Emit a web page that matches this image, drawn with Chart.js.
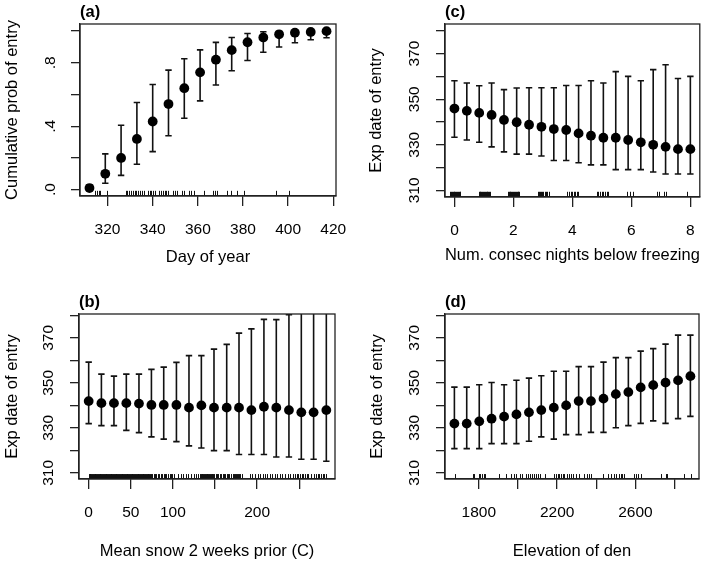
<!DOCTYPE html>
<html>
<head>
<meta charset="utf-8">
<script src="https://cdn.jsdelivr.net/npm/chart.js@4.4.0/dist/chart.umd.min.js"></script>
<style>
html, body { margin: 0; padding: 0; background: #fff; }
#wrap { position: relative; width: 709px; height: 562px; }
#wrap canvas { position: absolute; left: 0; top: 0; }
</style>
</head>
<body>
<div id="wrap">
  <canvas id="pa" width="709" height="562"></canvas>
  <canvas id="pb" width="709" height="562"></canvas>
  <canvas id="pc" width="709" height="562"></canvas>
  <canvas id="pd" width="709" height="562"></canvas>
</div>
<script>
// (a) day of year
const dayX = [312,319,326,333,340,347,354,361,368,375,382,389,396,403,410,417];
const dayProb = [0.01,0.10,0.20,0.32,0.43,0.54,0.64,0.74,0.82,0.88,0.93,0.96,0.98,0.99,0.995,1.0];
const dayLo = [0.003,0.04,0.09,0.16,0.24,0.34,0.45,0.56,0.66,0.75,0.815,0.867,0.90,0.927,0.946,0.958];
const dayHi = [0.03,0.226,0.406,0.55,0.663,0.754,0.826,0.882,0.929,0.96,0.985,0.996,0.997,0.998,0.999,1.0];
const dayRug = [314.6,315.3,316,316.6,319.8,328,328.8,329.6,330.4,331.2,332,332.8,333.6,334.4,335.2,336,
  337.8,338.6,339.4,340.3,341.1,342.8,343.6,344.4,345.3,346.1,347,348.8,349.8,350.8,352.9,353.9,355.9,
  357.1,358.4,362.8,366.6,367.7,368.7,372.8,374.6,377.5,380.5,394.6,400.4];
const dayTicks = [320,340,360,380,400,420];
const dayTickLabels = ['320','340','360','380','400','420'];
const probTicks = [0,0.2,0.4,0.6,0.8,1.0];
const probTickLabels = ['.0','','.4','','.8',''];

// (b) mean snow
const snowX = [0,15.1,30,44.7,59.7,74.5,89.1,104.2,119.1,133.8,148.8,163.9,178.5,193.2,208.1,222.8,237.8,252.5,267.1,282.2];
const snowY = [341.9,341.0,341.0,341.0,340.8,340.2,340.2,340.2,339.0,340.0,339.0,339.0,339.0,337.9,339.4,339.0,337.9,336.9,336.9,337.9];
const snowLo = [331.9,331.0,331.0,328.9,327.9,326.0,325.0,323.9,322.0,321.1,319.9,319.9,318.2,318.2,318.2,317.1,317.1,316.1,316.1,315.2];
const snowHi = [359.2,353.9,353.0,353.9,353.9,356.0,357.0,359.1,362.1,362.1,365.0,367.1,372.1,374.0,378.2,378.1,380.3,386,388,390];
const snowRug = [0,1,2,3,4,5,6,7,8,9,10,11,12,13,14,15,16,17,18,19,20,21,22,23,24,25,26,27,28,29,30,31,32,33,34,
  35,36,37,38,39,40,41,42,43,44,45,46,47,48,49,50,51,52,53,54,55,56,57,58,59,60,61,62,63,64,65,66,67,68,69,70,
  71,72,73,74,75.5,77,79,80.5,82,84,85.5,87,89,90.5,92,94,96,97.5,99,101,106,109.5,112,115.5,118,121,124.5,127,
  130,132,133,134,135,136,137,138,139,140,141,142,143,144,145,146,147,148,149,151,152.5,154,156,157.5,159,161,
  162,164,165.5,167,169,171,172,173.5,175,176,177,178.5,180,181.5,191,194.5,197,200.5,203,206.5,209,212,215.5,
  218,221.5,224,227.5,230,233,236.5,239,242.5,245,247,249,251,253,255,257,259,261,264.5,267,270.5,272,274,276,
  278,280,282];
const snowTicks = [0,50,100,150,200,250];
const snowTickLabels = ['0','50','100','','200',''];

// (c) consecutive nights below freezing
const nightX = [0,0.42,0.84,1.26,1.68,2.11,2.53,2.95,3.37,3.79,4.21,4.63,5.05,5.47,5.89,6.32,6.74,7.16,7.58,8];
const nightY = [345.9,344.9,344.0,343.1,340.9,339.9,338.8,337.9,336.9,336.5,335.0,334.0,333.1,333.1,332.1,331.1,330.0,329.1,328.1,328.1];
const nightLo = [333.3,332.1,331.1,329.1,326.9,325.9,325.9,325.1,323.1,323.1,322.1,321.2,321.2,319.1,319.1,319.1,318.1,317.2,317.2,317.2];
const nightHi = [358.1,357.1,355.9,357.1,354.2,354.9,355.0,355.0,355.0,356.0,356.0,358.1,357.1,362.1,360.0,358.1,363.0,365.1,359.1,360.0];
const nightRug = [-0.15,-0.12,-0.09,-0.06,-0.03,0,0.03,0.06,0.09,0.12,0.15,0.18,0.2,
  0.82,0.85,0.88,0.91,0.94,0.97,1,1.03,1.06,1.09,1.12,1.15,1.18,1.21,
  1.81,1.84,1.87,1.9,1.93,1.96,1.99,2.02,2.05,2.08,2.11,2.14,2.17,2.2,
  2.82,2.86,2.9,2.94,2.98,3.02,3.06,3.1,3.14,3.2,
  3.82,3.88,3.94,3.99,4.04,4.09,4.15,4.19,
  4.82,4.88,4.94,5.0,5.05,5.1,5.16,5.2,
  5.84,5.95,6.06,6.86,6.94,7.1,7.18,7.88];
const nightTicks = [0,2,4,6,8];
const nightTickLabels = ['0','2','4','6','8'];

// (d) elevation of den
const elevX = [1675,1738,1802,1865,1929,1992,2056,2119,2183,2246,2310,2373,2437,2500,2564,2627,2691,2754,2818,2881];
const elevY = [331.9,331.9,332.9,334.1,335.0,336.0,336.9,337.9,339.0,340.0,341.9,341.9,343.0,345.0,345.9,348.0,349.0,350.1,351.1,353.0];
const elevLo = [320.8,320.8,320.8,323.0,323.0,323.0,324.1,326.0,325.0,327.0,327.0,328.0,328.0,330.1,331.0,332.0,333.1,332.0,334.1,335.1];
const elevHi = [348.1,348.1,349.2,350.2,349.2,351.2,352.1,353.2,355.2,355.2,357.2,357.2,359.2,361.2,361.2,364.1,365.2,367.2,371.2,371.2];
const elevRug = [1678,1768,1775,1802,1808,1817,1824,1831,1903,1937,1966,1978,1988,2008,2019,2039,2051,2059,2073,
  2081,2093,2102,2110,2136,2186,2195,2203,2212,2220,2229,2237,2249,2259,2271,2283,2297,2310,2339,2351,2361,2373,
  2436,2458,2475,2492,2503,2514,2526,2534,2542,2593,2602,2615,2627,2729,2754,2763,2848,2882];
const elevTicks = [1800,2000,2200,2400,2600,2800];
const elevTickLabels = ['1800','','2200','','2600',''];

// shared y axis for expected date
const dateTicks = [310,320,330,340,350,360,370,380];
const dateTickLabels = ['310','','330','','350','','370',''];

const W = 709, H = 562;
const FONT = 'Liberation Sans, Arial, Helvetica, sans-serif';
const TITLE_SIZE = 16.5;
const TICK_SIZE = 15.5;

Chart.defaults.font.family = FONT;
Chart.defaults.color = '#000';

const panelPlugin = {
  id: 'panel',
  beforeDatasetsDraw(chart, args, o) {
    const ctx = chart.ctx, a = chart.chartArea;
    const xs = chart.scales.x, ys = chart.scales.y;
    ctx.save();
    ctx.beginPath();
    ctx.rect(a.left, a.top, a.right - a.left, a.bottom - a.top);
    ctx.clip();
    ctx.strokeStyle = '#111';
    ctx.lineWidth = 1.6;
    o.xs.forEach((xv, i) => {
      const px = xs.getPixelForValue(xv);
      const y1 = ys.getPixelForValue(o.lo[i]);
      const y2 = ys.getPixelForValue(o.hi[i]);
      ctx.beginPath();
      ctx.moveTo(px, y1); ctx.lineTo(px, y2);
      ctx.moveTo(px - 3.2, y1); ctx.lineTo(px + 3.2, y1);
      ctx.moveTo(px - 3.2, y2); ctx.lineTo(px + 3.2, y2);
      ctx.stroke();
    });
    // rug along the bottom edge
    ctx.lineWidth = 1;
    const len = 0.03 * (a.bottom - a.top);
    o.rug.forEach(v => {
      const px = Math.round(xs.getPixelForValue(v)) + 0.5;
      ctx.beginPath();
      ctx.moveTo(px, a.bottom);
      ctx.lineTo(px, a.bottom - len);
      ctx.stroke();
    });
    ctx.restore();
  },
  afterDraw(chart, args, o) {
    const ctx = chart.ctx, a = chart.chartArea;
    ctx.save();
    ctx.strokeStyle = '#222';
    ctx.lineWidth = 1.3;
    ctx.strokeRect(a.left, a.top, a.right - a.left, a.bottom - a.top);
    ctx.fillStyle = '#000';
    ctx.font = 'bold 16.5px ' + FONT;
    ctx.textBaseline = 'middle';
    ctx.textAlign = 'left';
    ctx.fillText(o.label, a.left, a.top - 11.5);
    ctx.restore();
  }
};

function makePanel(id, c) {
  const lh = TITLE_SIZE * 1.2;
  const padL = c.yTitleX - lh / 2;
  const padB = H - (c.xTitleY + lh / 2);
  new Chart(document.getElementById(id), {
    type: 'scatter',
    data: {
      datasets: [{
        data: c.xs.map((x, i) => ({ x: x, y: c.ys[i] })),
        pointRadius: 4.9,
        pointBackgroundColor: '#000',
        pointBorderWidth: 0,
        showLine: false
      }]
    },
    options: {
      responsive: false,
      animation: false,
      events: [],
      layout: { padding: { left: padL, top: c.box.t, right: W - c.box.r, bottom: padB } },
      plugins: {
        legend: { display: false },
        tooltip: { enabled: false },
        panel: { label: c.label, xs: c.xs, lo: c.lo, hi: c.hi, rug: c.rug }
      },
      scales: {
        x: {
          type: 'linear',
          min: c.xMin, max: c.xMax,
          afterBuildTicks: s => { s.ticks = c.xTicks.map(v => ({ value: v })); },
          afterFit: s => { s.height = c.xTitleY + lh / 2 - c.box.b; },
          ticks: {
            autoSkip: false, maxRotation: 0, minRotation: 0,
            padding: 14,
            font: { size: TICK_SIZE },
            color: '#000',
            callback: (v, i) => c.xLabels[i]
          },
          grid: { drawOnChartArea: false, drawTicks: true, tickLength: 10, color: '#222', lineWidth: 1.3 },
          border: { display: true, color: '#222', width: 1.3 },
          title: { display: true, text: c.xTitle, font: { size: TITLE_SIZE }, color: '#000', padding: 0 }
        },
        y: {
          type: 'linear',
          min: c.yMin, max: c.yMax,
          afterBuildTicks: s => { s.ticks = c.yTicks.map(v => ({ value: v })); },
          afterFit: s => { s.width = c.box.l - padL; },
          ticks: {
            autoSkip: false, minRotation: 90, maxRotation: 90,
            crossAlign: 'center',
            padding: c.yTickPad,
            font: { size: TICK_SIZE },
            color: '#000',
            callback: (v, i) => c.yLabels[i]
          },
          grid: { drawOnChartArea: false, drawTicks: true, tickLength: 9, color: '#222', lineWidth: 1.3 },
          border: { display: true, color: '#222', width: 1.3 },
          title: { display: true, text: c.yTitle, font: { size: TITLE_SIZE }, color: '#000', padding: 0 }
        }
      }
    },
    plugins: [panelPlugin]
  });
}

makePanel('pa', {
  label: '(a)', box: { l: 80, t: 24, r: 336, b: 196 }, xTitleY: 257, yTitleX: 12, yTickPad: 14,
  xs: dayX, ys: dayProb, lo: dayLo, hi: dayHi, rug: dayRug,
  xMin: 307.8, xMax: 421.2, yMin: -0.04, yMax: 1.045,
  xTicks: dayTicks, xLabels: dayTickLabels, yTicks: probTicks, yLabels: probTickLabels,
  xTitle: 'Day of year', yTitle: 'Cumulative prob of entry'
});

makePanel('pc', {
  label: '(c)', box: { l: 445, t: 24, r: 700, b: 197 }, xTitleY: 255, yTitleX: 376, yTickPad: 8,
  xs: nightX, ys: nightY, lo: nightLo, hi: nightHi, rug: nightRug,
  xMin: -0.32, xMax: 8.32, yMin: 307.1, yMax: 383.0,
  xTicks: nightTicks, xLabels: nightTickLabels, yTicks: dateTicks, yLabels: dateTickLabels,
  xTitle: 'Num. consec nights below freezing', yTitle: 'Exp date of entry'
});

makePanel('pb', {
  label: '(b)', box: { l: 79, t: 314, r: 335, b: 479 }, xTitleY: 551, yTitleX: 12, yTickPad: 8,
  xs: snowX, ys: snowY, lo: snowLo, hi: snowHi, rug: snowRug,
  xMin: -11.5, xMax: 292.5, yMin: 307.3, yMax: 380.6,
  xTicks: snowTicks, xLabels: snowTickLabels, yTicks: dateTicks, yLabels: dateTickLabels,
  xTitle: 'Mean snow 2 weeks prior (C)', yTitle: 'Exp date of entry'
});

makePanel('pd', {
  label: '(d)', box: { l: 445, t: 314, r: 699, b: 479 }, xTitleY: 551, yTitleX: 377, yTickPad: 8,
  xs: elevX, ys: elevY, lo: elevLo, hi: elevHi, rug: elevRug,
  xMin: 1627, xMax: 2925, yMin: 307.3, yMax: 380.6,
  xTicks: elevTicks, xLabels: elevTickLabels, yTicks: dateTicks, yLabels: dateTickLabels,
  xTitle: 'Elevation of den', yTitle: 'Exp date of entry'
});
</script>
</body>
</html>
